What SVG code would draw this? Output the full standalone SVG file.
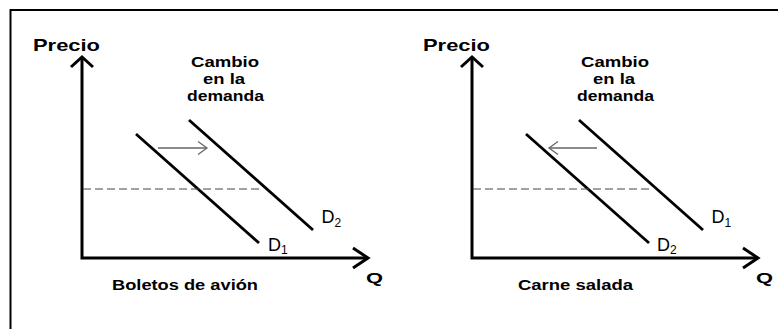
<svg xmlns="http://www.w3.org/2000/svg" width="778" height="329" viewBox="0 0 778 329">
<style>
.bold{font-family:"Liberation Sans",Arial,sans-serif;font-weight:bold;fill:#000}
.reg{font-family:"Liberation Sans",Arial,sans-serif;fill:#000}
.axis{stroke:#000;stroke-width:3;fill:none;stroke-linejoin:miter}
.curve{stroke:#000;stroke-width:2.8;fill:none}
.shift{stroke:#666;stroke-width:1.3;fill:none}
.dash{stroke:#444;stroke-width:1;stroke-dasharray:8,4;fill:none}
</style>
<rect x="0" y="0" width="778" height="329" fill="#fff"/>
<g id="frame">
<line x1="10" y1="10" x2="778" y2="10" stroke="#000" stroke-width="2"/>
<line x1="10.5" y1="9" x2="10.5" y2="329" stroke="#000" stroke-width="2"/>
</g>
<g id="panel-left">
<g id="axes-left">
<polyline class="axis" points="82,57 82,258 368,258"/>
<polyline class="axis" points="71,67 82,57 93,67"/>
<polyline class="axis" points="353,248 368,258 353,268"/>
</g>
<g id="connectors-left">
<line class="curve" x1="136" y1="134" x2="259" y2="243"/>
<line class="curve" x1="189" y1="120" x2="313" y2="230"/>
<line class="dash" x1="83" y1="189" x2="262" y2="189"/>
<line class="shift" x1="158" y1="148" x2="207" y2="148"/>
<polyline class="shift" points="198,141.5 207,148 198,154.5"/>
</g>
<text class="bold" x="33" y="50.5" font-size="17" textLength="67" lengthAdjust="spacingAndGlyphs">Precio</text>
<text class="bold" x="225" y="67" font-size="14.5" text-anchor="middle" textLength="68" lengthAdjust="spacingAndGlyphs">Cambio</text>
<text class="bold" x="224" y="84" font-size="14.5" text-anchor="middle" textLength="42" lengthAdjust="spacingAndGlyphs">en la</text>
<text class="bold" x="225.5" y="101" font-size="14.5" text-anchor="middle" textLength="77" lengthAdjust="spacingAndGlyphs">demanda</text>
<text class="reg" x="321.5" y="223" font-size="18">D<tspan font-size="12" dy="3.5">2</tspan></text>
<text class="reg" x="268" y="250.5" font-size="18">D<tspan font-size="12" dy="3.5">1</tspan></text>
<text class="bold" x="366" y="283" font-size="15.5" textLength="17" lengthAdjust="spacingAndGlyphs">Q</text>
<text class="bold" x="112" y="290" font-size="14.5" textLength="146" lengthAdjust="spacingAndGlyphs">Boletos de avión</text>
</g>
<g id="panel-right">
<g id="axes-right">
<polyline class="axis" points="472,57 472,258 758,258"/>
<polyline class="axis" points="461,67 472,57 483,67"/>
<polyline class="axis" points="743,248 758,258 743,268"/>
</g>
<g id="connectors-right">
<line class="curve" x1="526" y1="134" x2="649" y2="243"/>
<line class="curve" x1="579" y1="120" x2="703" y2="230"/>
<line class="dash" x1="473" y1="189" x2="652" y2="189"/>
<line class="shift" x1="597" y1="148" x2="549" y2="148"/>
<polyline class="shift" points="558,141.5 549,148 558,154.5"/>
</g>
<text class="bold" x="423" y="50.5" font-size="17" textLength="67" lengthAdjust="spacingAndGlyphs">Precio</text>
<text class="bold" x="615" y="67" font-size="14.5" text-anchor="middle" textLength="68" lengthAdjust="spacingAndGlyphs">Cambio</text>
<text class="bold" x="614" y="84" font-size="14.5" text-anchor="middle" textLength="42" lengthAdjust="spacingAndGlyphs">en la</text>
<text class="bold" x="615.5" y="101" font-size="14.5" text-anchor="middle" textLength="77" lengthAdjust="spacingAndGlyphs">demanda</text>
<text class="reg" x="711.5" y="223" font-size="18">D<tspan font-size="12" dy="3.5">1</tspan></text>
<text class="reg" x="657" y="250.5" font-size="18">D<tspan font-size="12" dy="3.5">2</tspan></text>
<text class="bold" x="756" y="283" font-size="15.5" textLength="17" lengthAdjust="spacingAndGlyphs">Q</text>
<text class="bold" x="518" y="290" font-size="14.5" textLength="115" lengthAdjust="spacingAndGlyphs">Carne salada</text>
</g>
</svg>
